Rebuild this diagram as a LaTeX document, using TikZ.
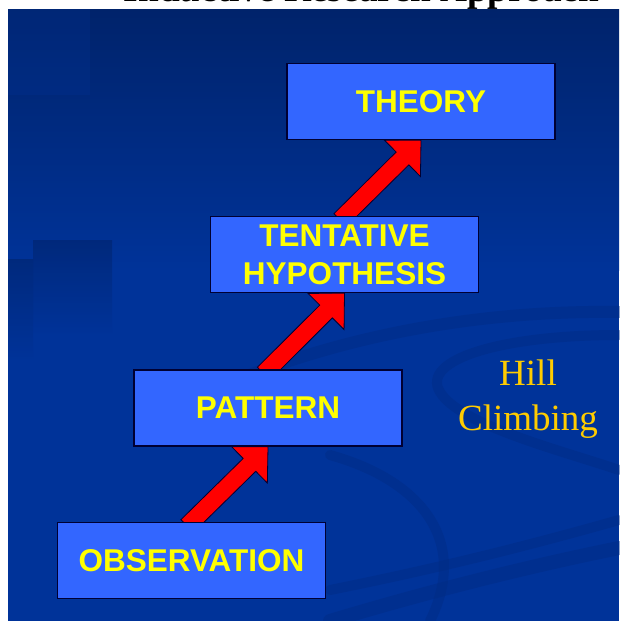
\documentclass[tikz,border=0pt]{standalone}
\usepackage{fontspec}
\setmainfont{Liberation Serif}
\newfontfamily\boxfont{Liberation Sans}
\usetikzlibrary{calc,backgrounds}
\definecolor{bgmain}{HTML}{003399}
\definecolor{bgtop}{HTML}{00236B}
\definecolor{bgdark}{HTML}{002A80}
\definecolor{boxfill}{HTML}{3366FF}
\definecolor{boxline}{HTML}{000033}
\definecolor{txtyellow}{HTML}{FFFF00}
\definecolor{hillgold}{HTML}{FFCC00}
\tikzset{
  stage/.style={draw=boxline, line width=1.3pt, fill=boxfill,
    minimum width=268pt, minimum height=76pt, inner sep=0pt, align=center,
    text=txtyellow, font=\boxfont\bfseries\fontsize{31.5}{38}\selectfont},
  climb/.style={fill=red, draw=boxline, line width=0.8pt, line join=miter},
  hilltext/.style={text=hillgold, font=\fontsize{37}{45}\selectfont, anchor=base, inner sep=0pt},
  swoosh/.style={draw=bgdark, opacity=0.4, line cap=round},
}
\newcommand\climbarrow[2]{%
  \coordinate (hb) at ($(#2.south)!26pt!(#1.north)$);
  \coordinate (st) at ($(#1.north)!-6pt!(#2.south)$);
  \path[climb] ($(st)!9pt!90:(#2.south)$) -- ($(hb)!9pt!90:(#2.south)$)
    -- ($(hb)!25.5pt!90:(#2.south)$) -- (#2.south)
    -- ($(hb)!25.5pt!-90:(#2.south)$) -- ($(hb)!9pt!-90:(#2.south)$)
    -- ($(st)!9pt!-90:(#2.south)$) -- cycle;}
\begin{document}
\begin{tikzpicture}[x=1pt,y=-1pt]
\useasboundingbox (0,0) rectangle (619,621);
% stage boxes
\node[stage] (theory) at (421,101.5) {THEORY};
\node[stage] (tentative) at (344.5,254.5) {TENTATIVE\\HYPOTHESIS};
\node[stage] (pattern) at (268,408) {PATTERN};
\node[stage] (observation) at (191.5,560.5) {OBSERVATION};
% side label
\node[hilltext] (hill) at (528,385) {Hill};
\node[hilltext] (climbing) at (528,430) {Climbing};
% title (cut off by the page edge, as in the reference)
\node[anchor=base, inner sep=0pt, font=\bfseries\fontsize{37.3}{40}\selectfont] (title) at (361.5,1.5) {Inductive Research Approach};
\begin{scope}[on background layer]
  \fill[white] (0,0) rectangle (619,621);
  \fill[bgmain] (8,9) rectangle (619,621);
  \shade[top color=bgtop, bottom color=bgmain] (8,9) rectangle (619,270);
  \fill[bgmain, opacity=0.25] (8,9) rectangle (90,95);
  \shade[top color=bgtop, bottom color=bgmain, opacity=0.6] (33,240) rectangle (112,335);
  \shade[top color=bgtop, bottom color=bgmain, opacity=0.6] (8,259) rectangle (33,360);
  % swooshes
  \draw[swoosh, line width=12pt] (190,400) .. controls (330,335) and (480,310) .. (619,312);
  \draw[swoosh, line width=10pt] (619,335) .. controls (500,335) and (420,360) .. (440,392)
     .. controls (460,425) and (560,450) .. (619,470);
  \draw[swoosh, line width=10pt] (330,455) .. controls (420,480) and (470,540) .. (430,621);
  \draw[swoosh, line width=14pt] (330,621) .. controls (450,585) and (550,562) .. (619,548);
  \draw[swoosh, line width=10pt] (330,590) .. controls (430,570) and (520,548) .. (619,520);
  % climbing arrows
  \climbarrow{observation}{pattern}
  \climbarrow{pattern}{tentative}
  \climbarrow{tentative}{theory}
\end{scope}
\end{tikzpicture}
\end{document}
